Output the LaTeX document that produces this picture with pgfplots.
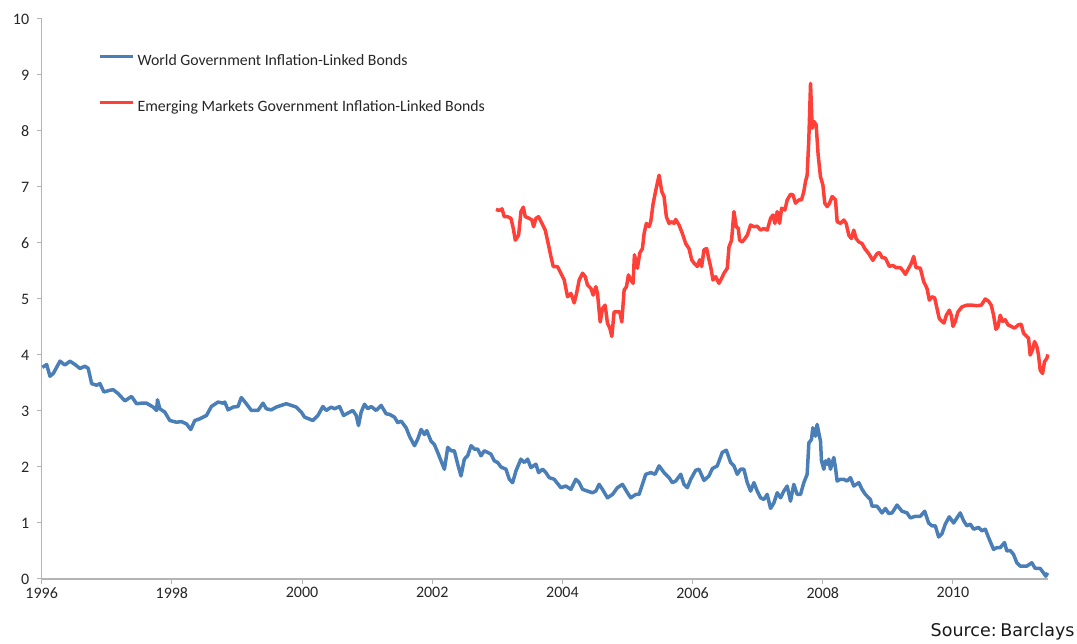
\documentclass[border=0pt]{standalone}
\usepackage{fontspec}
\setmainfont{Carlito}
\newfontfamily\srcfont{DejaVu Sans}
\usepackage{pgfplots}
\pgfplotsset{compat=1.18}
\usepackage{pgfplotstable}
\definecolor{wblue}{RGB}{74,126,183}
\definecolor{emred}{RGB}{255,64,56}
\definecolor{axgray}{RGB}{180,180,180}

\pgfplotstableread{
x y
1996.010 3.78
1996.025 3.79
1996.076 3.83
1996.127 3.62
1996.178 3.67
1996.281 3.89
1996.357 3.82
1996.434 3.89
1996.511 3.83
1996.588 3.76
1996.664 3.80
1996.715 3.76
1996.767 3.49
1996.843 3.46
1996.894 3.49
1996.956 3.34
1997.048 3.37
1997.099 3.38
1997.175 3.31
1997.278 3.18
1997.380 3.26
1997.457 3.13
1997.534 3.14
1997.610 3.14
1997.712 3.07
1997.764 3.01
1997.779 3.20
1997.815 3.04
1997.891 2.98
1997.968 2.83
1998.070 2.80
1998.147 2.81
1998.224 2.77
1998.290 2.67
1998.352 2.83
1998.428 2.86
1998.531 2.92
1998.607 3.08
1998.709 3.16
1998.786 3.14
1998.812 3.16
1998.863 3.02
1998.940 3.07
1999.016 3.08
1999.067 3.24
1999.144 3.13
1999.221 3.01
1999.323 3.01
1999.400 3.14
1999.451 3.04
1999.527 3.02
1999.604 3.07
1999.758 3.13
1999.911 3.07
1999.988 2.98
2000.039 2.89
2000.167 2.83
2000.243 2.92
2000.320 3.08
2000.371 3.01
2000.448 3.07
2000.499 3.04
2000.576 3.08
2000.637 2.92
2000.780 3.01
2000.832 2.92
2000.867 2.74
2000.908 2.98
2000.959 3.12
2001.010 3.04
2001.062 3.08
2001.138 3.01
2001.215 3.10
2001.292 2.95
2001.343 2.94
2001.420 2.89
2001.471 2.79
2001.522 2.82
2001.599 2.70
2001.650 2.55
2001.727 2.38
2001.778 2.50
2001.829 2.67
2001.880 2.58
2001.916 2.65
2001.982 2.46
2002.033 2.40
2002.084 2.26
2002.135 2.11
2002.187 1.96
2002.238 2.35
2002.289 2.29
2002.340 2.29
2002.391 2.05
2002.442 1.84
2002.493 2.14
2002.544 2.20
2002.596 2.38
2002.647 2.32
2002.698 2.32
2002.749 2.20
2002.800 2.29
2002.851 2.26
2002.902 2.23
2002.954 2.11
2003.005 2.08
2003.056 2.00
2003.133 1.96
2003.184 1.78
2003.235 1.72
2003.286 1.93
2003.362 2.14
2003.414 2.08
2003.465 2.14
2003.516 1.99
2003.593 2.05
2003.634 1.90
2003.695 1.96
2003.746 1.90
2003.797 1.81
2003.874 1.78
2003.976 1.63
2004.053 1.66
2004.130 1.60
2004.206 1.78
2004.258 1.72
2004.309 1.60
2004.385 1.57
2004.462 1.54
2004.513 1.57
2004.564 1.69
2004.615 1.60
2004.692 1.45
2004.769 1.51
2004.845 1.63
2004.922 1.69
2004.999 1.54
2005.050 1.45
2005.127 1.51
2005.178 1.51
2005.229 1.69
2005.280 1.87
2005.357 1.90
2005.423 1.87
2005.485 2.02
2005.561 1.90
2005.638 1.81
2005.689 1.72
2005.741 1.75
2005.817 1.87
2005.868 1.69
2005.919 1.63
2005.971 1.78
2006.047 1.94
2006.098 1.96
2006.175 1.76
2006.251 1.84
2006.303 1.97
2006.379 2.02
2006.456 2.26
2006.518 2.30
2006.584 2.08
2006.635 2.02
2006.686 1.87
2006.737 1.96
2006.788 1.96
2006.840 1.72
2006.891 1.57
2006.942 1.72
2006.993 1.57
2007.044 1.45
2007.095 1.42
2007.146 1.51
2007.198 1.26
2007.249 1.36
2007.300 1.54
2007.351 1.45
2007.402 1.57
2007.453 1.66
2007.504 1.39
2007.555 1.69
2007.607 1.51
2007.658 1.51
2007.709 1.72
2007.760 1.87
2007.786 2.43
2007.826 2.49
2007.847 2.70
2007.888 2.55
2007.913 2.76
2007.939 2.61
2007.965 2.46
2007.980 2.11
2008.016 1.96
2008.041 2.11
2008.067 2.05
2008.092 2.14
2008.118 1.96
2008.169 2.17
2008.195 1.99
2008.220 1.75
2008.271 1.78
2008.322 1.78
2008.374 1.75
2008.425 1.81
2008.476 1.66
2008.553 1.72
2008.604 1.60
2008.655 1.51
2008.732 1.42
2008.757 1.30
2008.834 1.30
2008.910 1.18
2008.962 1.26
2009.013 1.17
2009.064 1.18
2009.141 1.32
2009.217 1.21
2009.294 1.18
2009.345 1.09
2009.422 1.12
2009.499 1.12
2009.565 1.21
2009.626 1.00
2009.677 0.95
2009.729 0.95
2009.780 0.75
2009.831 0.81
2009.882 0.98
2009.943 1.11
2010.010 1.00
2010.061 1.09
2010.112 1.18
2010.163 1.04
2010.214 0.95
2010.266 0.98
2010.317 0.89
2010.393 0.92
2010.444 0.86
2010.496 0.89
2010.547 0.74
2010.623 0.53
2010.675 0.56
2010.726 0.56
2010.792 0.65
2010.828 0.50
2010.879 0.51
2010.930 0.44
2010.981 0.29
2011.032 0.23
2011.135 0.23
2011.211 0.29
2011.263 0.19
2011.339 0.19
2011.390 0.11
2011.426 0.05
2011.455 0.11
}\worldtab

\pgfplotstableread{
x y
2002.979 6.60
2003.030 6.58
2003.071 6.61
2003.107 6.47
2003.158 6.47
2003.209 6.44
2003.245 6.26
2003.276 6.05
2003.327 6.14
2003.363 6.56
2003.399 6.64
2003.429 6.47
2003.491 6.44
2003.531 6.41
2003.557 6.29
2003.593 6.44
2003.634 6.47
2003.685 6.35
2003.736 6.23
2003.787 5.96
2003.823 5.76
2003.859 5.58
2003.925 5.58
2003.976 5.46
2004.027 5.34
2004.079 5.04
2004.130 5.10
2004.181 4.93
2004.217 5.10
2004.258 5.34
2004.309 5.46
2004.350 5.40
2004.385 5.25
2004.437 5.19
2004.472 5.07
2004.513 5.22
2004.539 5.10
2004.580 4.59
2004.616 4.83
2004.656 4.89
2004.692 4.57
2004.728 4.48
2004.759 4.33
2004.794 4.77
2004.846 4.77
2004.881 4.77
2004.912 4.59
2004.948 5.16
2004.984 5.22
2005.014 5.43
2005.050 5.34
2005.086 5.28
2005.106 5.79
2005.152 5.55
2005.188 5.82
2005.229 5.90
2005.255 6.17
2005.290 6.35
2005.331 6.29
2005.357 6.38
2005.393 6.70
2005.434 6.94
2005.485 7.21
2005.526 6.92
2005.561 6.83
2005.597 6.47
2005.638 6.35
2005.679 6.38
2005.715 6.35
2005.740 6.42
2005.792 6.32
2005.843 6.17
2005.894 5.99
2005.945 5.90
2005.986 5.70
2006.022 5.64
2006.073 5.58
2006.109 5.70
2006.139 5.58
2006.175 5.88
2006.216 5.90
2006.252 5.70
2006.277 5.58
2006.313 5.34
2006.354 5.40
2006.405 5.28
2006.446 5.37
2006.482 5.46
2006.533 5.55
2006.559 5.93
2006.599 6.05
2006.635 6.56
2006.671 6.29
2006.702 6.26
2006.722 6.05
2006.763 6.02
2006.804 6.08
2006.840 6.14
2006.891 6.32
2006.942 6.29
2006.993 6.30
2007.044 6.23
2007.095 6.26
2007.147 6.23
2007.198 6.44
2007.234 6.50
2007.264 6.35
2007.300 6.56
2007.336 6.35
2007.367 6.62
2007.418 6.59
2007.454 6.77
2007.505 6.87
2007.541 6.86
2007.581 6.71
2007.633 6.77
2007.673 6.77
2007.709 6.92
2007.735 7.10
2007.760 7.21
2007.786 7.87
2007.812 8.85
2007.837 8.05
2007.863 8.17
2007.898 8.11
2007.929 7.57
2007.965 7.18
2008.001 7.04
2008.031 6.71
2008.067 6.65
2008.103 6.71
2008.144 6.83
2008.195 6.77
2008.221 6.38
2008.272 6.35
2008.323 6.41
2008.359 6.35
2008.400 6.14
2008.440 6.08
2008.476 6.23
2008.512 6.08
2008.553 6.02
2008.604 5.99
2008.645 5.90
2008.706 5.81
2008.768 5.69
2008.834 5.81
2008.870 5.83
2008.911 5.74
2008.962 5.73
2009.023 5.58
2009.075 5.60
2009.126 5.56
2009.192 5.56
2009.243 5.49
2009.269 5.44
2009.320 5.55
2009.361 5.64
2009.397 5.76
2009.432 5.56
2009.499 5.55
2009.550 5.31
2009.601 5.19
2009.637 4.98
2009.678 5.04
2009.719 5.02
2009.755 4.83
2009.790 4.65
2009.831 4.60
2009.862 4.57
2009.898 4.71
2009.944 4.80
2009.974 4.71
2010.000 4.51
2010.036 4.60
2010.077 4.77
2010.138 4.86
2010.215 4.89
2010.291 4.89
2010.368 4.88
2010.435 4.89
2010.496 5.00
2010.547 4.96
2010.588 4.89
2010.624 4.71
2010.660 4.46
2010.690 4.50
2010.726 4.71
2010.762 4.60
2010.803 4.63
2010.844 4.54
2010.895 4.51
2010.946 4.48
2011.007 4.54
2011.048 4.55
2011.084 4.39
2011.135 4.33
2011.161 4.30
2011.186 4.00
2011.222 4.09
2011.253 4.24
2011.289 4.15
2011.314 4.00
2011.340 3.73
2011.376 3.67
2011.406 3.88
2011.442 3.94
2011.458 4.01
}\emtab

\begin{document}
\begin{tikzpicture}
\useasboundingbox (-41.7pt,-65pt) rectangle (1035.3pt,579pt);
\begin{axis}[
  scale only axis,
  width=1006.3pt, height=560pt,
  xmin=1996, xmax=2011.46, ymin=0, ymax=10,
  axis x line*=bottom, axis y line*=left,
  axis line style={draw=axgray, line width=1.2pt},
  xtick={1996,1998,...,2010},
  ytick={0,1,...,10},
  tick align=outside,
  major tick length=5pt,
  tick style={draw=axgray, line width=1pt},
  /pgf/number format/assume math mode=true,
  /pgf/number format/set thousands separator={},
  tick label style={font=\fontsize{16}{19}\selectfont, text=black!85},
  yticklabel style={xshift=-4pt},
  clip=false,
  legend cell align=left,
  legend style={draw=none, fill=none, inner sep=0pt, at={(0.0559,0.937)}, anchor=north west,
    row sep=32pt, column sep=3pt,
    nodes={inner sep=0pt, text height=11pt, text depth=3pt, font=\fontsize{15.8}{18}\selectfont, text=black!85}},
  legend image code/.code={\draw[#1, line width=3.5pt] (0pt,5pt) -- (33pt,5pt);},
]
\addplot[wblue, line width=3.5pt, line join=round] table[x=x,y=y] {\worldtab};
\addlegendentry{World Government Inflation-Linked Bonds}
\addplot[emred, line width=3.5pt, line join=round] table[x=x,y=y] {\emtab};
\addlegendentry{Emerging Markets Government Inflation-Linked Bonds}
\end{axis}
\node[anchor=base east, inner sep=0pt, text=black!90] at (1033pt,-58pt) {\srcfont\fontsize{17.5}{20}\selectfont Source:\kern-2pt\ Barclays};
\end{tikzpicture}
\end{document}
